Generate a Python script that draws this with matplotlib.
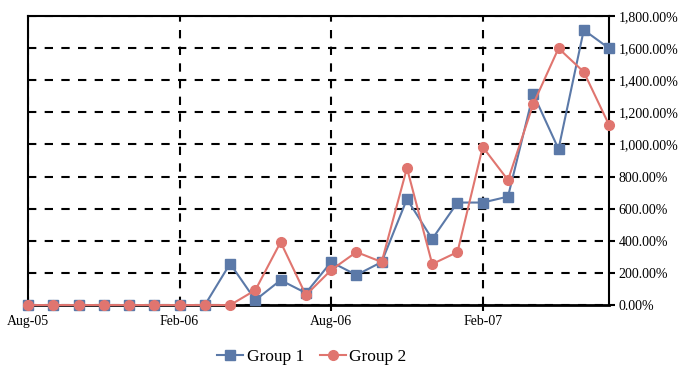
import pandas as pd
import matplotlib.pyplot as plt
from matplotlib.ticker import FuncFormatter, MultipleLocator

plt.rcParams['font.family'] = ['Liberation Serif', 'DejaVu Serif']

# Monthly dates Aug-05 .. Jul-07
months = pd.date_range("2005-08-01", periods=24, freq="MS")
group1 = [0, 0, 0, 0, 0, 0, 0, 0, 258, 31, 155, 75, 268, 187, 268, 660,
          411, 638, 638, 675, 1314, 971, 1712, 1598]
group2 = [0, 0, 0, 0, 0, 0, 0, 0, 0, 93, 392, 62, 218, 330, 268, 853,
          255, 330, 984, 778, 1251, 1598, 1451, 1121]
tick_labels = ["Aug-05", "Feb-06", "Aug-06", "Feb-07"]

x = list(range(len(months)))

fig = plt.figure(figsize=(6.78, 3.68), dpi=100)
ax = fig.add_axes([0.0413, 0.171, 0.857, 0.786])

ax.plot(x, group1, color="#5B79A8", marker="s", markersize=7.5, lw=1.5,
        label="Group 1", clip_on=False, zorder=3)
ax.plot(x, group2, color="#E0756F", marker="o", markersize=7, lw=1.5,
        label="Group 2", clip_on=False, zorder=4)

ax.set_xlim(0, 23)
ax.set_ylim(0, 1800)
ax.set_xticks([0, 6, 12, 18])
ax.set_xticklabels(tick_labels, fontsize=10)
ax.yaxis.set_major_locator(MultipleLocator(200))
ax.yaxis.set_major_formatter(FuncFormatter(lambda v, p: f"{v:,.2f}%"))
ax.yaxis.tick_right()
ax.tick_params(axis="y", labelsize=10, direction="out", length=4, width=1.5, pad=3)
ax.tick_params(axis="x", direction="out", length=4, width=1.5, pad=3)

ax.grid(True, color="black", linestyle=(0, (4, 4)), lw=1.5)
for s in ax.spines.values():
    s.set_linewidth(1.5)
ax.spines["bottom"].set_linewidth(2)

fig.legend(loc="lower center", bbox_to_anchor=(0.46, -0.035), ncol=2, frameon=False,
           fontsize=12.5, handlelength=1.5, handletextpad=0.2, columnspacing=0.9)

fig.savefig("out.png", dpi=100)
